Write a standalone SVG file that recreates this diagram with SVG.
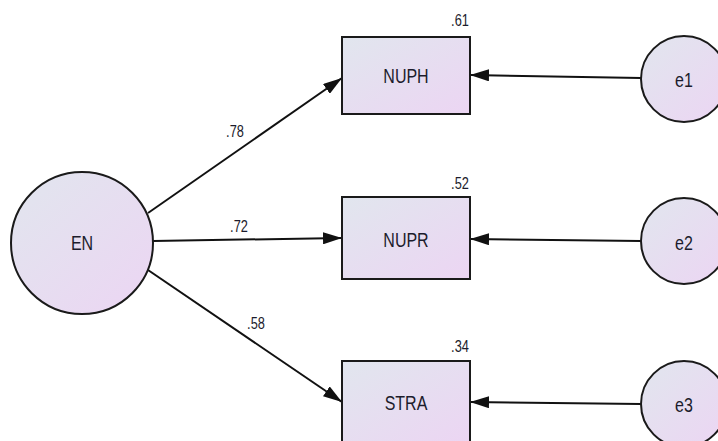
<svg xmlns="http://www.w3.org/2000/svg" width="718" height="441" viewBox="0 0 718 441">
<defs>
<linearGradient id="g" x1="0" y1="0" x2="1" y2="1">
<stop offset="0" stop-color="#e1e6ee"/>
<stop offset="1" stop-color="#ecd5f3"/>
</linearGradient>
<marker id="ah" viewBox="0 0 19 12" refX="19" refY="6" markerWidth="19" markerHeight="12" markerUnits="userSpaceOnUse" orient="auto">
<path d="M0,0 L19,6 L0,12 Z" fill="#111"/>
</marker>
<style>
.n{fill:url(#g);stroke:#1a1a1a;stroke-width:2}
.t{font-family:"Liberation Sans",Arial,sans-serif;font-size:20px;fill:#1c1c2c;text-anchor:middle;dominant-baseline:central}
.c{font-family:"Liberation Sans",Arial,sans-serif;font-size:16px;fill:#1c1c2c;text-anchor:middle;dominant-baseline:central}
.e{stroke:#111;stroke-width:2;fill:none;marker-end:url(#ah)}
</style>
</defs>
<rect width="718" height="441" fill="#fff"/>
<g id="connectors">
<line class="e" x1="148" y1="213" x2="342" y2="78"/>
<line class="e" x1="153" y1="241" x2="342" y2="238"/>
<line class="e" x1="148" y1="270" x2="342" y2="402"/>
<line class="e" x1="641" y1="78" x2="470" y2="75"/>
<line class="e" x1="641" y1="241" x2="470" y2="239"/>
<line class="e" x1="641" y1="404" x2="470" y2="402"/>
<g transform="translate(235,131) scale(0.8,1)"><text class="c">.78</text></g>
<g transform="translate(239,226) scale(0.8,1)"><text class="c">.72</text></g>
<g transform="translate(256,323) scale(0.8,1)"><text class="c">.58</text></g>
</g>
<g id="EN">
<circle class="n" cx="82" cy="243" r="71"/>
<g transform="translate(82,243) scale(0.8,1)"><text class="t">EN</text></g>
</g>
<g id="NUPH">
<rect class="n" x="342" y="37" width="128" height="77"/>
<g transform="translate(406,76) scale(0.8,1)"><text class="t">NUPH</text></g>
<g transform="translate(460,20) scale(0.8,1)"><text class="c">.61</text></g>
</g>
<g id="NUPR">
<rect class="n" x="342" y="197" width="128" height="82"/>
<g transform="translate(406,240) scale(0.8,1)"><text class="t">NUPR</text></g>
<g transform="translate(460,183) scale(0.8,1)"><text class="c">.52</text></g>
</g>
<g id="STRA">
<rect class="n" x="342" y="361" width="128" height="82"/>
<g transform="translate(406,403) scale(0.8,1)"><text class="t">STRA</text></g>
<g transform="translate(460,346) scale(0.8,1)"><text class="c">.34</text></g>
</g>
<g id="e1">
<circle class="n" cx="684" cy="79" r="43"/>
<g transform="translate(684,80) scale(0.8,1)"><text class="t">e1</text></g>
</g>
<g id="e2">
<circle class="n" cx="684" cy="241" r="43"/>
<g transform="translate(684,243) scale(0.8,1)"><text class="t">e2</text></g>
</g>
<g id="e3">
<circle class="n" cx="684" cy="404" r="43"/>
<g transform="translate(684,405) scale(0.8,1)"><text class="t">e3</text></g>
</g>
</svg>
